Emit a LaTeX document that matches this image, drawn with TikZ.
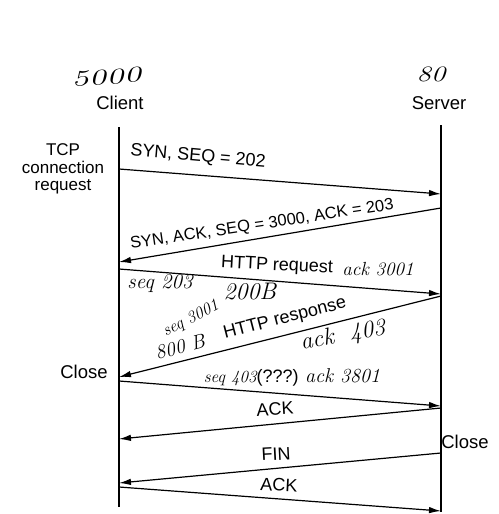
\documentclass[tikz,border=0pt]{standalone}
\usepackage{fontspec}
\setmainfont{Liberation Sans}
\newfontfamily\handfont{Latin Modern Roman}
\usetikzlibrary{arrows.meta}
\begin{document}
\begin{tikzpicture}[x=1pt,y=-1pt,
  lifeline/.style={line width=1.6pt},
  msg/.style={line width=1.2pt,-{Latex[length=12pt,width=6.5pt]}},
  lbl/.style={font=\fontsize{18}{20}\selectfont,inner sep=0pt},
  hand/.style={font=\fontsize{19}{20}\selectfont\handfont\itshape,inner sep=0pt},
  port/.style={font=\fontsize{22}{24}\selectfont\handfont\itshape,inner sep=0pt}]
\useasboundingbox (0,0) rectangle (498,514);
% lifelines
\coordinate (ctop) at (119,127);
\coordinate (cbot) at (119,507);
\coordinate (stop) at (441,125);
\coordinate (sbot) at (441,512);
\draw[lifeline] (ctop) -- (cbot);
\draw[lifeline] (stop) -- (sbot);
% heads
\node[port,xscale=1.6,rotate=6] (p1) at (106,77) {5000};
\node[port,xscale=1.3] (p2) at (431,74) {80};
\node[lbl,font=\fontsize{18.5}{20}\selectfont] (client) at (120,103) {Client};
\node[lbl,font=\fontsize{18.5}{20}\selectfont] (server) at (439,103) {Server};
\node[lbl,align=center,font=\fontsize{17}{17.5}\selectfont] (tcp) at (63,169) {TCP\\connection\\request};
\node[lbl,font=\fontsize{18.5}{20}\selectfont] (closeL) at (84,372) {Close};
\node[lbl,font=\fontsize{18.5}{20}\selectfont] (closeR) at (465,442) {Close};
% message end points
\coordinate (c1) at (119,169); \coordinate (s1) at (441,194);
\coordinate (s2) at (441,208); \coordinate (c2) at (119,262);
\coordinate (c3) at (119,269); \coordinate (s3) at (441,294);
\coordinate (s4) at (441,296); \coordinate (c4) at (119,377);
\coordinate (c5) at (119,381); \coordinate (s5) at (441,406);
\coordinate (s6) at (441,408); \coordinate (c6) at (119,439);
\coordinate (s7) at (441,453); \coordinate (c7) at (119,483);
\coordinate (c8) at (119,487); \coordinate (s8) at (441,511);
\draw[msg] (c1) -- (s1);
\draw[msg] (s2) -- (c2);
\draw[msg] (c3) -- (s3);
\draw[msg] (s4) -- (c4);
\draw[msg] (c5) -- (s5);
\draw[msg] (s6) -- (c6);
\draw[msg] (s7) -- (c7);
\draw[msg] (c8) -- (s8);
% labels
\node[lbl,rotate=-5] (l1) at (198,157) {SYN, SEQ = 202};
\node[lbl,rotate=8.5,font=\fontsize{16.5}{18}\selectfont] (l2) at (262,225) {SYN, ACK, SEQ = 3000, ACK = 203};
\node[lbl,rotate=-3] (l3) at (277,266) {HTTP request};
\node[hand] (h3) at (378,269) {ack 3001};
\node[hand,font=\fontsize{21}{22}\selectfont\handfont\itshape] (h3b) at (160,284) {seq 203};
\node[hand,font=\fontsize{24}{26}\selectfont\handfont\itshape] (h3c) at (250,292) {200B};
\node[lbl,rotate=14.5] (l4) at (285,319) {HTTP response};
\node[hand,font=\fontsize{17}{18}\selectfont\handfont\itshape,rotate=28] (h4a) at (191,319) {seq 3001};
\node[hand,font=\fontsize{20}{22}\selectfont\handfont\itshape,rotate=15] (h4b) at (180,347) {800 B};
\node[hand,font=\fontsize{24}{26}\selectfont\handfont\itshape,rotate=10] (h4c) at (343,336) {ack\hspace{16pt}403};
\node[lbl] (l5) at (292,377) {{\handfont\itshape\fontsize{17}{18}\selectfont seq 403}(???) {\handfont\itshape\fontsize{20}{22}\selectfont ack 3801}};
\node[lbl,rotate=3] (l6) at (275,409) {ACK};
\node[lbl,rotate=3] (l7) at (276,454) {FIN};
\node[lbl,rotate=-3] (l8) at (279,485) {ACK};
\end{tikzpicture}
\end{document}
